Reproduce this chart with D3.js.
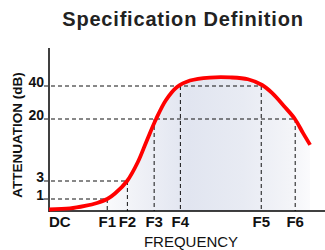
<!DOCTYPE html>
<html>
<head>
<meta charset="utf-8">
<script src="https://cdn.jsdelivr.net/npm/d3@7"></script>
<style>
  html, body { margin: 0; padding: 0; background: #fff; }
  svg { display: block; }
</style>
</head>
<body>
<svg id="chart" width="325" height="250"></svg>
<script>
// ---- data ----
const title = "Specification Definition";
const xTitle = "FREQUENCY";
const yTitle = "ATTENUATION (dB)";
// frequency markers (arbitrary frequency units, DC = 0)
const freqLabels = ["DC", "F1", "F2", "F3", "F4", "F5", "F6"];
const freqValues = [0, 21.1, 28.4, 38.1, 47.6, 76.9, 89.2];
// attenuation levels (dB)
const dbLabels = ["1", "3", "20", "40"];
const dbValues = [1, 3, 20, 40];
// frequencies at which each attenuation level is marked
const dbMarkFreqs = [[21.1], [28.4], [38.1, 89.2], [47.6, 76.9]];
// filter response curve
const curveFreq = [0, 7.6, 13.0, 17.4, 21.1, 23.9, 28.3, 32.2, 35.5, 38.8, 42.4, 46.4, 51.1, 58.3, 65.6, 72.1, 77.2, 80.8, 85.1, 89.1, 92.0, 94.6];
const curveDb   = [0.125, 0.21, 0.42, 0.67, 1.0, 1.61, 3, 8.2, 14.2, 20, 31.5, 39.4, 43.3, 45.1, 45.2, 44.1, 40.6, 35.8, 27.9, 20, 16.2, 12.9];

// ---- layout ----
const svg = d3.select("#chart");
const x = d3.scaleLinear().domain([0, 100]).range([49, 325]);
// non-uniform attenuation axis as drawn in the reference
const y = d3.scaleLinear().domain([0, 1, 3, 20, 40]).range([211, 199, 181, 119, 86]);

const narrow = "'Liberation Sans Narrow', 'Arial Narrow', 'Liberation Sans', Arial, sans-serif";

// gradient fill
const defs = svg.append("defs");
const grad = defs.append("linearGradient").attr("id", "fillGrad")
  .attr("gradientUnits", "userSpaceOnUse")
  .attr("x1", x(14)).attr("x2", x(95)).attr("y1", 0).attr("y2", 0);
[[0, "#ffffff"], [0.25, "#eef0f6"], [0.45, "#e1e5f0"], [0.7, "#e8ebf3"], [0.9, "#f3f4f8"], [1, "#fbfbfd"]]
  .forEach(([o, c]) => grad.append("stop").attr("offset", o).attr("stop-color", c));

const pts = curveFreq.map((f, i) => [f, curveDb[i]]);
const crv = d3.curveCatmullRom.alpha(0.5);

const area = d3.area()
  .x(d => x(d[0])).y0(y(0)).y1(d => y(d[1]))
  .curve(crv);
svg.append("path").datum(pts).attr("d", area).attr("fill", "url(#fillGrad)");

// dashed guide lines
const g = svg.append("g").attr("stroke", "#111").attr("stroke-width", 1).attr("stroke-dasharray", "4,3").attr("fill", "none");
dbValues.forEach((v, i) => {
  const far = d3.max(dbMarkFreqs[i]);
  g.append("line").attr("x1", 44).attr("x2", x(far)).attr("y1", y(v)).attr("y2", y(v));
  dbMarkFreqs[i].forEach(f => {
    g.append("line").attr("x1", x(f)).attr("x2", x(f)).attr("y1", y(v)).attr("y2", y(0));
  });
});

// axes
svg.append("line").attr("x1", x(0)).attr("x2", x(0)).attr("y1", 48).attr("y2", y(0) + 1)
  .attr("stroke", "#000").attr("stroke-width", 1.5);
svg.append("line").attr("x1", x(0)).attr("x2", 325).attr("y1", y(0)).attr("y2", y(0))
  .attr("stroke", "#000").attr("stroke-width", 1.5);

// curve
const line = d3.line().x(d => x(d[0])).y(d => y(d[1])).curve(crv);
svg.append("path").datum(pts).attr("d", line)
  .attr("fill", "none").attr("stroke", "#ff0000").attr("stroke-width", 3.8).attr("stroke-linejoin", "round");

// x labels
svg.append("g").selectAll("text").data(freqLabels).join("text")
  .attr("x", (d, i) => x(freqValues[i]))
  .attr("y", 227)
  .attr("text-anchor", (d, i) => i === 0 ? "start" : "middle")
  .attr("font-family", narrow).attr("font-weight", "bold").attr("font-size", 15)
  .attr("fill", "#111")
  .text(d => d);

// y labels
svg.append("g").selectAll("text").data(dbLabels).join("text")
  .attr("x", 44)
  .attr("y", (d, i) => y(dbValues[i]) + 1)
  .attr("text-anchor", "end")
  .attr("font-family", narrow).attr("font-weight", "bold").attr("font-size", 14)
  .attr("fill", "#111")
  .text(d => d);

// titles
svg.append("text").attr("x", 183).attr("y", 26).attr("text-anchor", "middle")
  .attr("font-family", "'Liberation Sans', Arial, sans-serif").attr("font-weight", "bold")
  .attr("font-size", 20).attr("letter-spacing", 0.8).attr("fill", "#222").text(title);

svg.append("text").attr("x", 191).attr("y", 247).attr("text-anchor", "middle")
  .attr("font-family", "'Liberation Sans', Arial, sans-serif")
  .attr("font-size", 15).attr("fill", "#111").text(xTitle);

svg.append("text").attr("transform", "translate(22,135) rotate(-90)").attr("text-anchor", "middle")
  .attr("font-family", "'Liberation Sans', Arial, sans-serif").attr("font-weight", "bold")
  .attr("font-size", 13.5).attr("fill", "#111").text(yTitle);
</script>
</body>
</html>
